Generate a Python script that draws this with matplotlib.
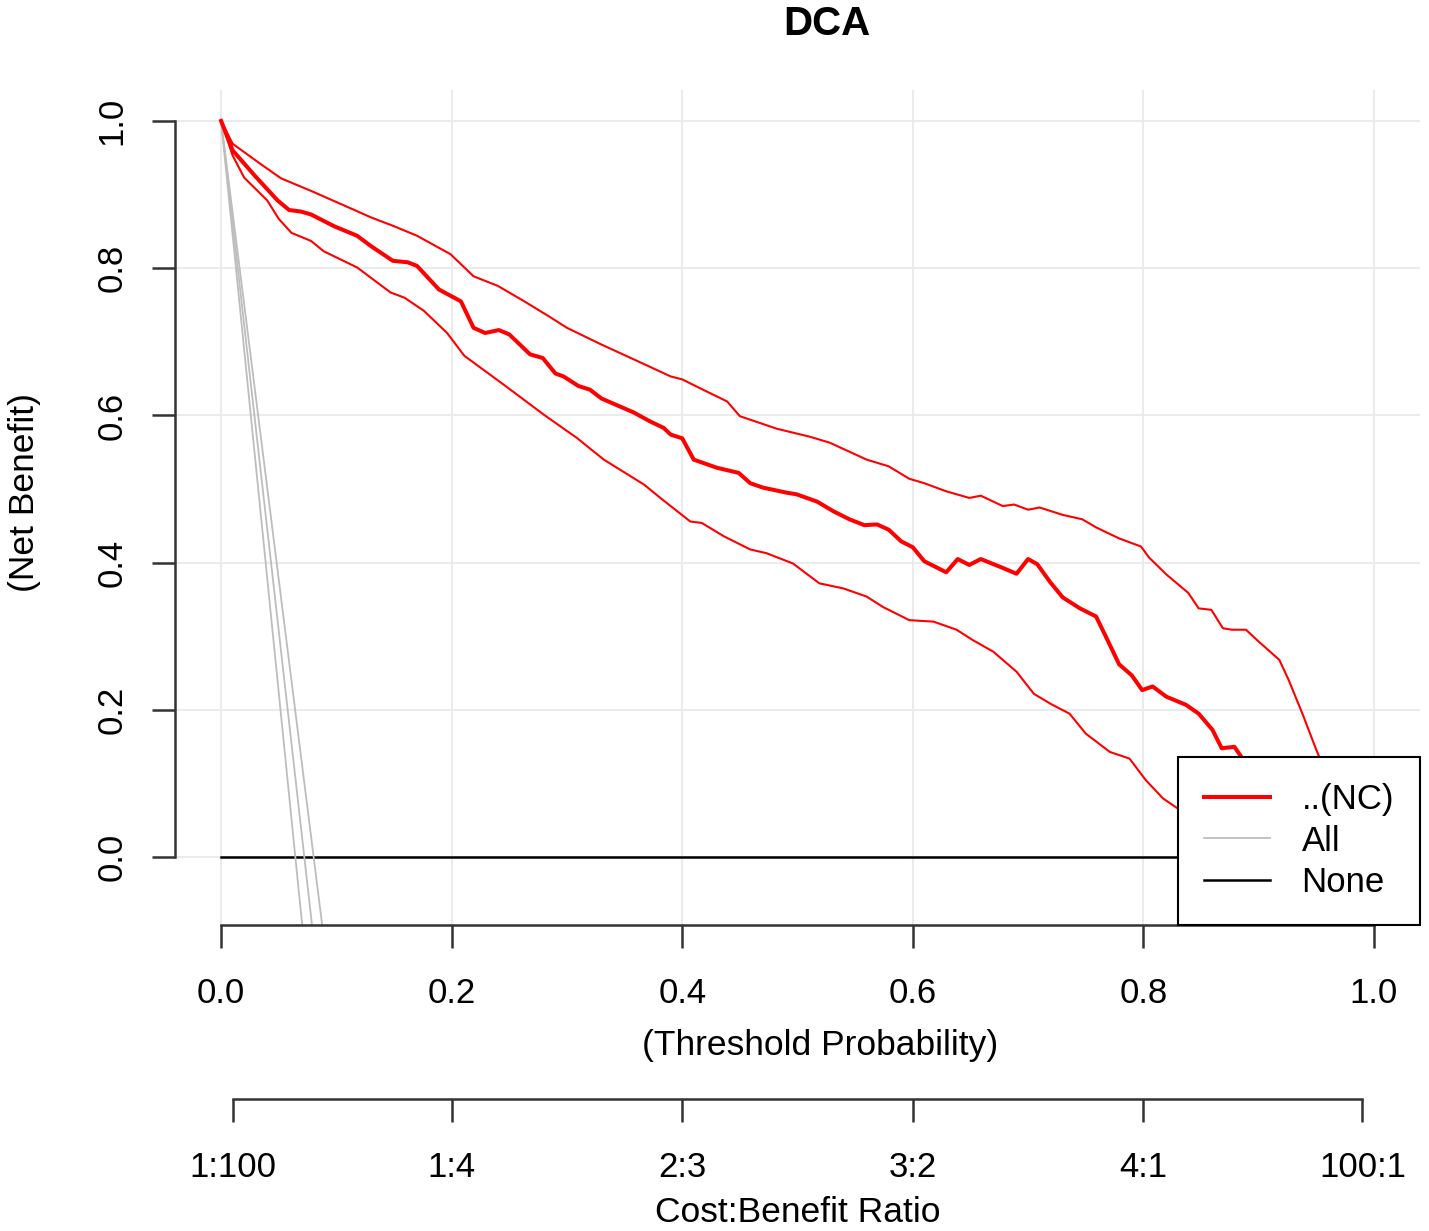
import matplotlib
matplotlib.use("Agg")
import matplotlib.pyplot as plt
from matplotlib.lines import Line2D

plt.rcParams['font.family'] = ['Liberation Sans', 'DejaVu Sans']

# standardized net benefit
nc_x = [0.000, 0.010, 0.029, 0.049, 0.059, 0.069, 0.078, 0.098, 0.118, 0.130,
        0.149, 0.162, 0.170, 0.189, 0.208, 0.219, 0.229, 0.241, 0.250, 0.268,
        0.279, 0.290, 0.297, 0.310, 0.320, 0.330, 0.358, 0.372, 0.384, 0.390,
        0.400, 0.410, 0.430, 0.449, 0.459, 0.470, 0.491, 0.499, 0.517, 0.531,
        0.545, 0.558, 0.569, 0.579, 0.590, 0.600, 0.610, 0.629, 0.639, 0.649,
        0.659, 0.678, 0.690, 0.700, 0.708, 0.719, 0.730, 0.745, 0.759, 0.768,
        0.779, 0.790, 0.799, 0.808, 0.820, 0.837, 0.848, 0.860, 0.868, 0.879,
        0.890]
nc_y = [1.000, 0.960, 0.926, 0.892, 0.879, 0.877, 0.873, 0.857, 0.844, 0.830,
        0.810, 0.808, 0.803, 0.771, 0.755, 0.719, 0.712, 0.716, 0.710, 0.683,
        0.678, 0.657, 0.653, 0.640, 0.635, 0.623, 0.604, 0.592, 0.583, 0.574,
        0.569, 0.540, 0.529, 0.522, 0.508, 0.502, 0.495, 0.493, 0.483, 0.470,
        0.459, 0.451, 0.452, 0.445, 0.429, 0.421, 0.402, 0.387, 0.405, 0.397,
        0.405, 0.393, 0.385, 0.405, 0.398, 0.374, 0.353, 0.338, 0.327, 0.298,
        0.262, 0.247, 0.227, 0.232, 0.218, 0.207, 0.195, 0.173, 0.148, 0.150,
        0.125]

upper_x = [0.000, 0.010, 0.032, 0.052, 0.078, 0.107, 0.130, 0.150, 0.170, 0.199,
           0.219, 0.240, 0.263, 0.286, 0.300, 0.329, 0.361, 0.390, 0.400, 0.418,
           0.439, 0.450, 0.482, 0.511, 0.528, 0.560, 0.579, 0.597, 0.610, 0.629,
           0.649, 0.659, 0.678, 0.688, 0.700, 0.710, 0.730, 0.747, 0.759, 0.779,
           0.798, 0.805, 0.820, 0.839, 0.848, 0.859, 0.869, 0.877, 0.889, 0.900,
           0.918, 0.926, 0.938, 0.950, 0.965]
upper_y = [1.000, 0.969, 0.944, 0.922, 0.905, 0.885, 0.869, 0.857, 0.844, 0.819,
           0.789, 0.776, 0.755, 0.733, 0.719, 0.697, 0.674, 0.653, 0.649, 0.635,
           0.619, 0.599, 0.582, 0.571, 0.563, 0.540, 0.531, 0.514, 0.508, 0.497,
           0.488, 0.491, 0.477, 0.479, 0.472, 0.475, 0.465, 0.459, 0.448, 0.433,
           0.422, 0.407, 0.384, 0.359, 0.338, 0.336, 0.311, 0.309, 0.309, 0.293,
           0.268, 0.241, 0.195, 0.146, 0.090]

lower_x = [0.000, 0.010, 0.020, 0.040, 0.050, 0.061, 0.078, 0.089, 0.118, 0.147,
           0.159, 0.176, 0.196, 0.211, 0.245, 0.280, 0.309, 0.332, 0.367, 0.381,
           0.407, 0.417, 0.436, 0.459, 0.473, 0.496, 0.519, 0.540, 0.560, 0.574,
           0.597, 0.618, 0.638, 0.652, 0.670, 0.690, 0.705, 0.720, 0.736, 0.750,
           0.771, 0.788, 0.802, 0.817, 0.830, 0.850]
lower_y = [1.000, 0.953, 0.923, 0.892, 0.867, 0.848, 0.837, 0.823, 0.801, 0.767,
           0.760, 0.742, 0.712, 0.681, 0.642, 0.601, 0.569, 0.540, 0.506, 0.488,
           0.456, 0.454, 0.436, 0.418, 0.413, 0.399, 0.372, 0.365, 0.354, 0.340,
           0.322, 0.320, 0.309, 0.295, 0.279, 0.252, 0.222, 0.208, 0.195, 0.168,
           0.143, 0.134, 0.105, 0.080, 0.066, 0.055]

# treat-all lines (three of them)
all_lines_x = [[0.0, 0.0644, 0.0741],
               [0.0, 0.0722, 0.0830],
               [0.0, 0.0803, 0.0923]]
all_lines_y = [[1.0, 0.0, -0.15],
               [1.0, 0.0, -0.15],
               [1.0, 0.0, -0.15]]

none_x = [0.0, 1.0]
none_y = [0.0, 0.0]

x_ticks = [0.0, 0.2, 0.4, 0.6, 0.8, 1.0]
y_ticks = [0.0, 0.2, 0.4, 0.6, 0.8, 1.0]
cb_ticks = [1 / 101, 0.2, 0.4, 0.6, 0.8, 100 / 101]
cb_labels = ["1:100", "1:4", "2:3", "3:2", "4:1", "100:1"]
legend_labels = ["..(NC)", "All", "None"]

W, H = 1429, 1231
fig = plt.figure(figsize=(W / 100, H / 100), dpi=100)
ax = fig.add_axes([175 / W, 1 - 925 / H, (1420 - 175) / W, (925 - 90) / H])

ax.set_xlim(-0.04, 1.04)
ax.set_ylim(-0.092, 1.042)

ax.set_axisbelow(True)
ax.grid(True, color="#ebebeb", linewidth=1.5)

ax.plot(none_x, none_y, color="black", linewidth=1.8, zorder=2)
for xs, ys in zip(all_lines_x, all_lines_y):
    ax.plot(xs, ys, color="#bdbdbd", linewidth=1.3, zorder=2)
ax.plot(upper_x, upper_y, color="red", linewidth=1.5, zorder=3)
ax.plot(lower_x, lower_y, color="red", linewidth=1.5, zorder=3)
ax.plot(nc_x, nc_y, color="red", linewidth=2.9, zorder=4)

for s in ["top", "right"]:
    ax.spines[s].set_visible(False)
for s in ["left", "bottom"]:
    ax.spines[s].set_bounds(0, 1)
    ax.spines[s].set_linewidth(1.8)
    ax.spines[s].set_color("#333333")

ax.set_xticks(x_ticks, labels=["%.1f" % v for v in x_ticks])
ax.set_yticks(y_ticks, labels=["%.1f" % v for v in y_ticks])
ax.tick_params(axis="both", direction="out", length=16.5, width=1.8,
               color="#333333", labelsize=25)
ax.tick_params(axis="x", pad=21)
ax.tick_params(axis="y", pad=17, labelrotation=90)
plt.setp(ax.get_yticklabels(), va="center")

# cost:benefit axis below
sec = ax.secondary_xaxis((925 - 1099) / 835)
sec.set_xticks(cb_ticks, labels=cb_labels)
sec.spines["bottom"].set_bounds(cb_ticks[0], cb_ticks[-1])
sec.spines["bottom"].set_linewidth(1.8)
sec.spines["bottom"].set_color("#333333")
sec.tick_params(axis="x", direction="out", length=16.5, width=1.8,
                color="#333333", labelsize=25, pad=21)

handles = [Line2D([], [], color="red", linewidth=2.9),
           Line2D([], [], color="#bdbdbd", linewidth=1.3),
           Line2D([], [], color="black", linewidth=1.8)]
leg = ax.legend(handles, legend_labels, loc="lower right", bbox_to_anchor=(1, 0),
                borderaxespad=0, fontsize=25, handlelength=1.9, handletextpad=0.9,
                labelspacing=0.24, borderpad=0.75, fancybox=False, framealpha=1)
leg.get_frame().set_edgecolor("black")
leg.get_frame().set_linewidth(1.5)
leg.set_zorder(10)

fig.text(827 / W, 1 - 24 / H, "DCA", ha="center", va="center",
         fontsize=29, fontweight="bold")
fig.text(25 / W, 1 - 492 / H, "(Net Benefit)", ha="center", va="center",
         rotation=90, fontsize=25.5)
fig.text(820 / W, 1 - 1046 / H, "(Threshold Probability)", ha="center",
         va="center", fontsize=25.5)
fig.text(798 / W, 1 - 1213 / H, "Cost:Benefit Ratio", ha="center",
         va="center", fontsize=25.5)

fig.savefig("out.png", dpi=100, facecolor="white")
